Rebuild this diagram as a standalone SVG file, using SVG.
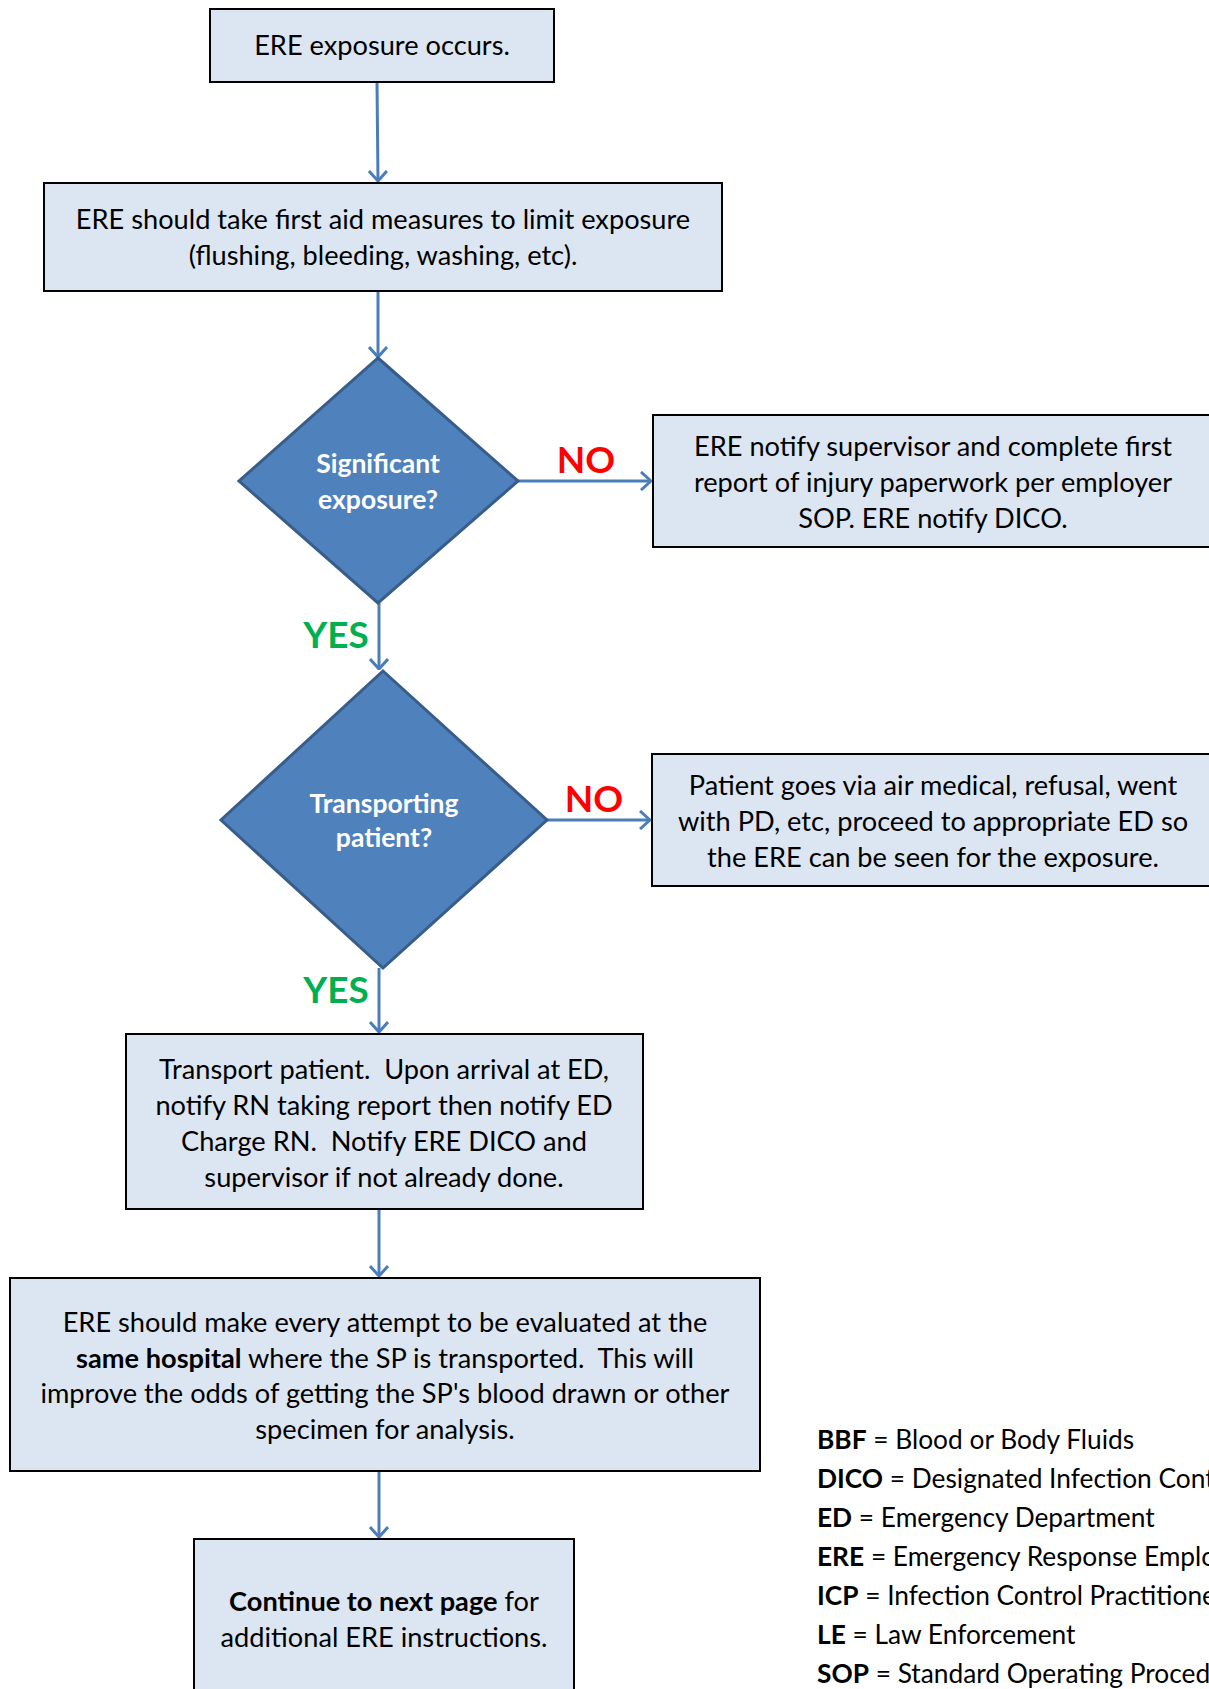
<svg xmlns="http://www.w3.org/2000/svg" width="1209" height="1689" viewBox="0 0 1209 1689">
<style>
.box{fill:#DCE6F2;stroke:#000;stroke-width:2}
.dia{fill:#4F81BD;stroke:#385D8A;stroke-width:3}
text{white-space:pre}
.t{font-family:Lato,"Liberation Sans",sans-serif;font-size:27.2px;fill:#000;text-anchor:middle}
.dt{font-family:Lato,"Liberation Sans",sans-serif;font-size:26.5px;font-weight:bold;fill:#fff;text-anchor:middle}
.no{font-family:Lato,"Liberation Sans",sans-serif;font-size:37px;font-weight:bold;fill:#FF0000;text-anchor:middle}
.yes{font-family:Lato,"Liberation Sans",sans-serif;font-size:37px;font-weight:bold;fill:#00B050;text-anchor:middle}
.lg{font-family:Lato,"Liberation Sans",sans-serif;font-size:26.3px;fill:#000}
.b{font-weight:bold}
.c{stroke:#4A7EBB;stroke-width:3;fill:none;marker-end:url(#ah)}
</style>
<defs>
<marker id="ah" viewBox="0 0 12 20" refX="11" refY="10" markerWidth="12" markerHeight="20" markerUnits="userSpaceOnUse" orient="auto">
<path d="M1,1 L11,10 L1,19" fill="none" stroke="#4A7EBB" stroke-width="3"/>
</marker>
</defs>
<rect width="1209" height="1689" fill="#fff"/>
<g id="connectors">
<line class="c" x1="377" y1="82" x2="378" y2="181"/>
<line class="c" x1="378" y1="291" x2="378" y2="357"/>
<line class="c" x1="518" y1="481" x2="651" y2="481"/>
<line class="c" x1="379" y1="603" x2="379" y2="669"/>
<line class="c" x1="547" y1="820" x2="650" y2="820"/>
<line class="c" x1="379" y1="968" x2="379" y2="1032"/>
<line class="c" x1="379" y1="1209" x2="379" y2="1276"/>
<line class="c" x1="379" y1="1471" x2="379" y2="1537"/>
<text class="no" x="586" y="473">NO</text>
<text class="no" x="594" y="812">NO</text>
<text class="yes" x="336" y="648">YES</text>
<text class="yes" x="336" y="1003">YES</text>
</g>
<g id="n1">
<rect class="box" x="210" y="9" width="344" height="73"/>
<text class="t" x="382" y="55">ERE exposure occurs.</text>
</g>
<g id="n2">
<rect class="box" x="44" y="183" width="678" height="108"/>
<text class="t" x="383" y="229">ERE should take first aid measures to limit exposure</text>
<text class="t" x="383" y="265">(flushing, bleeding, washing, etc).</text>
</g>
<g id="d1">
<polygon class="dia" points="378,358 518,481 378,603 239,481"/>
<text class="dt" x="378" y="473">Significant</text>
<text class="dt" x="378" y="509">exposure?</text>
</g>
<g id="n3">
<rect class="box" x="653" y="415" width="580" height="132"/>
<text class="t" x="933" y="456">ERE notify supervisor and complete first</text>
<text class="t" x="933" y="492">report of injury paperwork per employer</text>
<text class="t" x="933" y="528">SOP. ERE notify DICO.</text>
</g>
<g id="d2">
<polygon class="dia" points="383,671 547,820 383,968 221,820"/>
<text class="dt" x="384" y="813">Transporting</text>
<text class="dt" x="384" y="847">patient?</text>
</g>
<g id="n4">
<rect class="box" x="652" y="754" width="580" height="132"/>
<text class="t" x="933" y="795">Patient goes via air medical, refusal, went</text>
<text class="t" x="933" y="831">with PD, etc, proceed to appropriate ED so</text>
<text class="t" x="933" y="867">the ERE can be seen for the exposure.</text>
</g>
<g id="n5">
<rect class="box" x="126" y="1034" width="517" height="175"/>
<text class="t" x="384" y="1079">Transport patient.  Upon arrival at ED,</text>
<text class="t" x="384" y="1115">notify RN taking report then notify ED</text>
<text class="t" x="384" y="1151">Charge RN.  Notify ERE DICO and</text>
<text class="t" x="384" y="1187">supervisor if not already done.</text>
</g>
<g id="n6">
<rect class="box" x="10" y="1278" width="750" height="193"/>
<text class="t" x="385" y="1332">ERE should make every attempt to be evaluated at the</text>
<text class="t" x="385" y="1368"><tspan class="b">same hospital</tspan> where the SP is transported.  This will</text>
<text class="t" x="385" y="1403">improve the odds of getting the SP's blood drawn or other</text>
<text class="t" x="385" y="1439">specimen for analysis.</text>
</g>
<g id="n7">
<rect class="box" x="194" y="1539" width="380" height="170"/>
<text class="t" x="384" y="1611"><tspan class="b">Continue to next page</tspan> for</text>
<text class="t" x="384" y="1647">additional ERE instructions.</text>
</g>
<g id="legend">
<text class="lg" x="817" y="1449"><tspan class="b">BBF</tspan> = Blood or Body Fluids</text>
<text class="lg" x="817" y="1488"><tspan class="b">DICO</tspan> = Designated Infection Control Officer</text>
<text class="lg" x="817" y="1527"><tspan class="b">ED</tspan> = Emergency Department</text>
<text class="lg" x="817" y="1566"><tspan class="b">ERE</tspan> = Emergency Response Employee</text>
<text class="lg" x="817" y="1605"><tspan class="b">ICP</tspan> = Infection Control Practitioner</text>
<text class="lg" x="817" y="1644"><tspan class="b">LE</tspan> = Law Enforcement</text>
<text class="lg" x="817" y="1683"><tspan class="b">SOP</tspan> = Standard Operating Procedure</text>
</g>
</svg>
